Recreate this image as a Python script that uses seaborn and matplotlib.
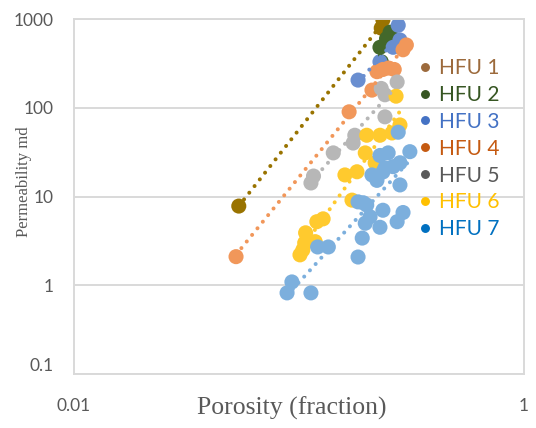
import numpy as np
import pandas as pd
import matplotlib
matplotlib.use("Agg")
import matplotlib.pyplot as plt
from matplotlib.lines import Line2D
import seaborn as sns

# Porosity (fraction) and permeability (md) per hydraulic flow unit
hfu1_por = [0.054, 0.236, 0.232]
hfu1_perm = [7.8, 980, 790]

hfu2_por = [0.229, 0.254, 0.232, 0.245]
hfu2_perm = [480, 710, 330, 600]

hfu3_por = [0.276, 0.281, 0.262, 0.229, 0.183]
hfu3_perm = [850, 580, 480, 330, 205]

hfu4_por = [0.0525, 0.167, 0.211, 0.222, 0.236, 0.25, 0.265, 0.29, 0.30]
hfu4_perm = [2.1, 90, 158, 255, 270, 280, 270, 450, 510]

hfu5_por = [0.113, 0.116, 0.142, 0.174, 0.177, 0.241, 0.241, 0.232, 0.273]
hfu5_perm = [14.2, 17, 31, 40, 49, 79, 140, 165, 195]

hfu6_por = [0.101, 0.104, 0.106, 0.107, 0.118, 0.120, 0.128, 0.160, 0.172,
            0.181, 0.197, 0.200, 0.218, 0.229, 0.259, 0.281, 0.270]
hfu6_perm = [2.2, 2.5, 3.0, 3.9, 3.1, 5.2, 5.6, 17.5, 9.1,
             19, 31, 49, 24, 49, 52, 64, 135]

hfu7_por = [0.0885, 0.093, 0.113, 0.121, 0.135, 0.183, 0.191, 0.197, 0.193,
            0.183, 0.200, 0.207, 0.229, 0.236, 0.273, 0.290, 0.281, 0.211,
            0.222, 0.236, 0.241, 0.262, 0.281, 0.229, 0.249, 0.311, 0.276]
hfu7_perm = [0.82, 1.09, 0.82, 2.7, 2.7, 2.08, 3.4, 5.0, 8.5,
             8.7, 8.0, 5.9, 4.5, 7.0, 5.2, 6.6, 13.5, 17.5,
             15.2, 18.9, 21, 21.7, 24, 29, 31, 32, 53]

units = ["HFU 1", "HFU 2", "HFU 3", "HFU 4", "HFU 5", "HFU 6", "HFU 7"]
porosity = [hfu1_por, hfu2_por, hfu3_por, hfu4_por, hfu5_por, hfu6_por, hfu7_por]
permeability = [hfu1_perm, hfu2_perm, hfu3_perm, hfu4_perm, hfu5_perm, hfu6_perm, hfu7_perm]

marker_colors = ["#997300", "#43682B", "#698ED0", "#F1975A", "#B7B7B7", "#FFCA2E", "#7CAFDD"]
legend_colors = ["#9C6A3C", "#375623", "#4472C4", "#C55A11", "#595959", "#FFC000", "#0070C0"]

x_ticks = [0.01, 1]
x_tick_labels = ["0.01", "1"]
y_ticks = [0.1, 1, 10, 100, 1000]
y_tick_labels = ["0.1", "1", "10", "100", "1000"]

df = pd.concat(
    [pd.DataFrame({"Porosity": p, "Permeability": k, "HFU": u})
     for u, p, k in zip(units, porosity, permeability)],
    ignore_index=True,
)

sns.set_style("white")
plt.rcParams["font.family"] = ["Lato", "DejaVu Sans"]

fig = plt.figure(figsize=(5.36, 4.28), dpi=100)
ax = fig.add_axes([74 / 536, 1 - 374 / 428, 450 / 536, 355 / 428])

sns.scatterplot(
    data=df, x="Porosity", y="Permeability", hue="HFU",
    hue_order=units, palette=dict(zip(units, marker_colors)),
    s=118, edgecolor="none", linewidth=0, legend=False, ax=ax, zorder=2,
)

ax.set_xscale("log")
ax.set_yscale("log")
ax.set_xlim(0.01, 1)
ax.set_ylim(0.1, 1000)

# Power-law trendline for each flow unit, fitted in log space over its range
for u, p, k, c in zip(units, porosity, permeability, marker_colors):
    lp, lk = np.log10(p), np.log10(k)
    b, a = np.polyfit(lp, lk, 1)
    xs = np.logspace(lp.min(), lp.max(), 200)
    ax.plot(xs, 10 ** (a + b * np.log10(xs)), color=c, lw=2.9,
            linestyle=(0, (0.01, 2.1)), dash_capstyle="round", zorder=3)

ax.set_xticks(x_ticks)
ax.set_xticklabels(x_tick_labels)
ax.set_yticks(y_ticks)
ax.set_yticklabels(y_tick_labels)
ax.xaxis.set_minor_locator(plt.NullLocator())
ax.yaxis.set_minor_locator(plt.NullLocator())
ax.tick_params(axis="both", length=0, labelsize=12.5, colors="#595959")
ax.tick_params(axis="x", pad=17)
ax.tick_params(axis="y", pad=15)
ax.get_yticklabels()[0].set_va("bottom")

ax.grid(False)
ax.yaxis.grid(True, color="#D9D9D9", lw=1.4)
for sp in ax.spines.values():
    sp.set_color("#D9D9D9")
    sp.set_linewidth(1.4)

ax.set_xlabel("Porosity (fraction)", family="Liberation Serif", fontsize=18.5, color="#595959")
ax.set_ylabel("Permeability md", family="Liberation Serif", fontsize=12, color="#595959")
ax.xaxis.set_label_coords((292 - 74) / 450, -(397 - 374) / 355)
ax.yaxis.set_label_coords(-(74 - 32) / 450, (374 - 182) / 355)

handles = [Line2D([], [], marker="o", ls="", color=c, markersize=5.4) for c in legend_colors]
fig.legend(handles, units, loc="upper left", bbox_to_anchor=(419 / 536, 1 - 58 / 428),
           frameon=False, fontsize=15, labelcolor=legend_colors,
           handlelength=0.6, handletextpad=0.35, labelspacing=0.33, borderpad=0,
           borderaxespad=0)

fig.savefig("out.png", dpi=100)
